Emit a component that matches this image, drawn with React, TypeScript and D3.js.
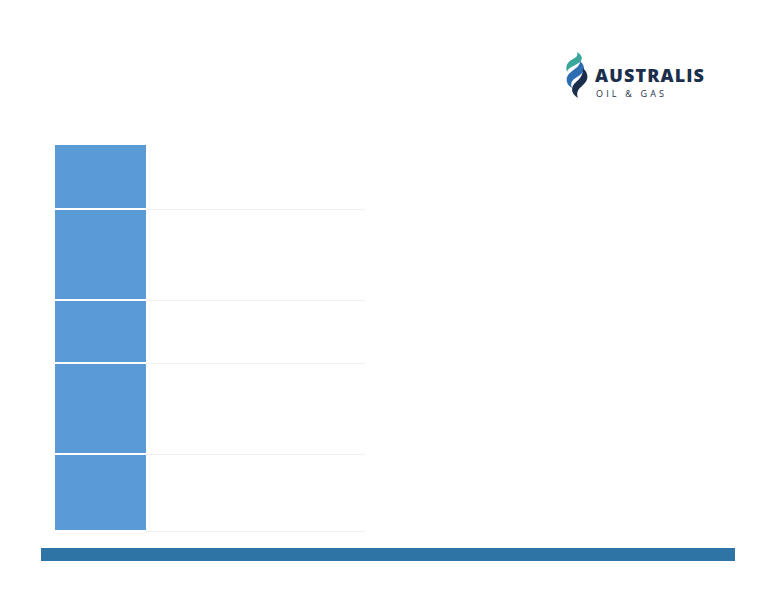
import React, { useEffect, useRef } from 'react';
import * as d3 from 'd3';

// table rows (empty text cells), relative heights
const rowNames = ['r1', 'r2', 'r3', 'r4', 'r5'];
const rowWeights = [64, 91, 63, 91, 77];
const brandName = 'AUSTRALIS';
const brandSub = 'OIL & GAS';

const W = 776;
const H = 600;

const App = () => {
  const svgRef = useRef<SVGSVGElement | null>(null);

  useEffect(() => {
    const svg = d3.select(svgRef.current);
    svg.selectAll('*').remove();

    svg.append('rect').attr('width', W).attr('height', H).attr('fill', '#ffffff');

    // row positions via cumulative weights -> linear scale
    const cum = [0, ...d3.cumsum(rowWeights)];
    const y = d3.scaleLinear().domain([0, cum[cum.length - 1]]).range([145, 531]);
    const x = d3.scaleBand().domain(['label', 'text']).range([55, 365]).paddingInner(0);
    const labelW = 91;

    const rows = svg.append('g');
    rowNames.forEach((name, i) => {
      const top = y(cum[i]) + (i === 0 ? 0 : 1);
      const bottom = y(cum[i + 1]) - 1;
      rows
        .append('rect')
        .attr('class', name)
        .attr('x', x('label')!)
        .attr('y', top)
        .attr('width', labelW)
        .attr('height', bottom - top)
        .attr('fill', '#5b9bd5');
      // separator line
      rows
        .append('line')
        .attr('x1', x('label')! + labelW)
        .attr('x2', 365)
        .attr('y1', y(cum[i + 1]) + 0.5)
        .attr('y2', y(cum[i + 1]) + 0.5)
        .attr('stroke', '#f0f0f0')
        .attr('stroke-width', 1);
    });

    // footer bar
    svg
      .append('rect')
      .attr('x', 41)
      .attr('y', 548)
      .attr('width', 694)
      .attr('height', 13)
      .attr('fill', '#2e75a6');

    // logo
    const logo = svg.append('g');
    logo
      .append('path')
      .attr('d', 'M577,52 C584,56 583,61 577,64 C572,67 568,68 567,72 C565,66 568,61 573,59 C577,57 578,55 577,52 Z')
      .attr('fill', '#3aa79a');
    logo
      .append('path')
      .attr('d', 'M580,61 C587,67 584,73 577,77 C572,80 570,83 572,88 C565,84 565,76 571,72 C576,68 580,66 580,61 Z')
      .attr('fill', '#2f6db3');
    logo
      .append('path')
      .attr('d', 'M583,68 C590,75 588,81 582,86 C578,89 576,93 578,98 C571,94 570,87 576,82 C581,78 583,74 583,68 Z')
      .attr('fill', '#1b2e4b');
    logo
      .append('text')
      .attr('x', 595)
      .attr('y', 82)
      .attr('font-family', 'Open Sans, sans-serif')
      .attr('font-weight', 800)
      .attr('font-size', 18)
      .attr('textLength', 109)
      .attr('fill', '#1b2e4b')
      .text(brandName);
    logo
      .append('text')
      .attr('x', 596)
      .attr('y', 97)
      .attr('font-family', 'Open Sans, sans-serif')
      .attr('font-size', 9)
      .attr('textLength', 68)
      .attr('fill', '#1b2e4b')
      .text(brandSub);
  }, []);

  return <svg ref={svgRef} width={W} height={H} style={{ display: 'block', position: 'absolute', left: 0, top: 0 }} />;
};

export default App;
